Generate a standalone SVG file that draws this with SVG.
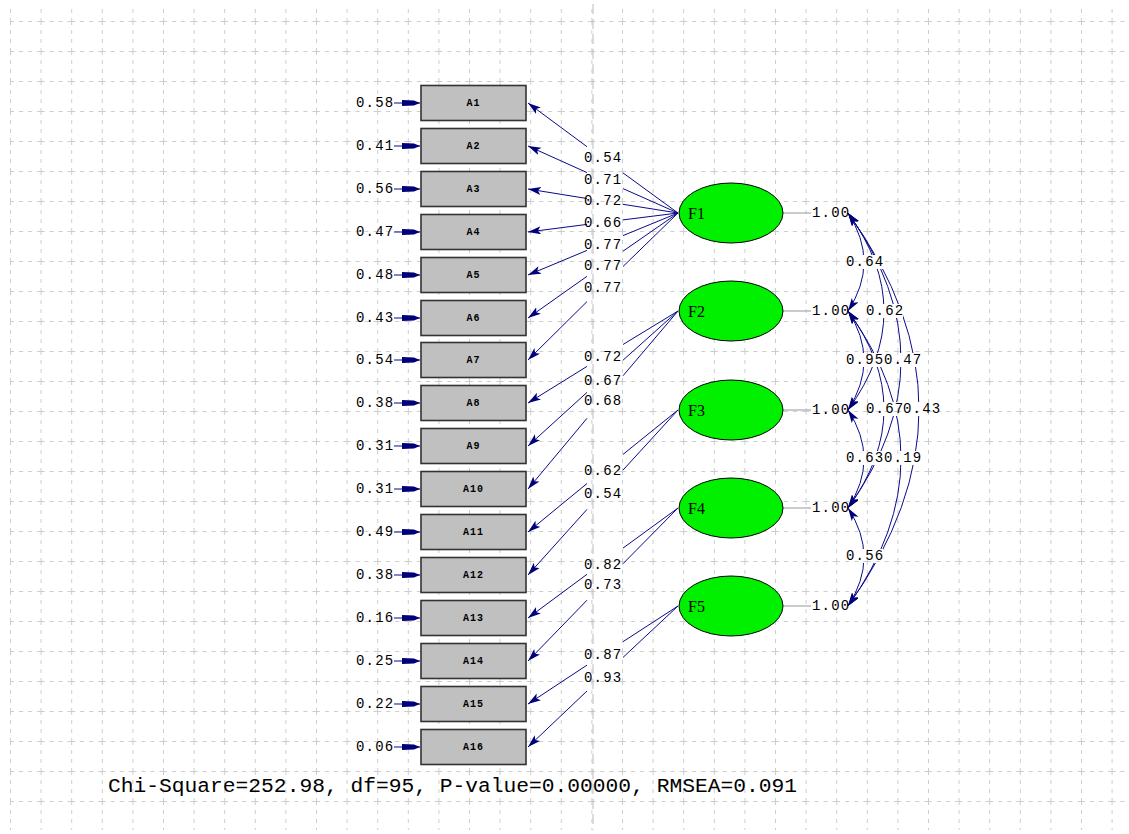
<svg xmlns="http://www.w3.org/2000/svg" width="1129" height="834" viewBox="0 0 1129 834">
<style>
.lbl{font-family:"Liberation Mono",monospace;font-size:14px;letter-spacing:1.2px;fill:#000;dominant-baseline:central}
.box{fill:#c0c0c0;stroke:#333;stroke-width:1.6}
.bt{font-family:"Liberation Mono",monospace;font-size:10px;font-weight:bold;letter-spacing:1px;fill:#000;text-anchor:middle;dominant-baseline:central}
.ell{fill:#00f000;stroke:#000;stroke-width:1}
.ft{font-family:"Liberation Serif",serif;font-size:16px;fill:#000;dominant-baseline:central}
.p{stroke:#0a0a8a;stroke-width:1;fill:none}
.v{stroke:#a8a8a8;stroke-width:1.2}
</style>
<defs>
<pattern id="grid" patternUnits="userSpaceOnUse" x="10" y="21" width="30.6" height="30">
<line x1="0" y1="0.5" x2="30.6" y2="0.5" stroke="#cdcdcd" stroke-width="1" stroke-dasharray="4 5"/>
<line x1="0.5" y1="0" x2="0.5" y2="30" stroke="#cdcdcd" stroke-width="1" stroke-dasharray="4 5"/>
</pattern>
<marker id="ah" markerUnits="userSpaceOnUse" markerWidth="14" markerHeight="10" refX="13" refY="4" orient="auto-start-reverse">
<path d="M0,0 L13,4 L0,8 L3,4 z" fill="#00007a"/>
</marker>
<marker id="eh" markerUnits="userSpaceOnUse" markerWidth="20" markerHeight="10" refX="18" refY="4" orient="auto">
<path d="M0,1 L12,1.5 L18,4 L12,6.5 L0,7 z" fill="#00007a"/>
</marker>
<mask id="covmask" maskUnits="userSpaceOnUse" x="0" y="0" width="1129" height="834">
<rect x="0" y="0" width="1129" height="834" fill="#fff"/>
<rect x="845" y="255" width="38" height="14" fill="#000"/>
<rect x="865" y="304" width="38" height="14" fill="#000"/>
<rect x="845" y="353" width="38" height="14" fill="#000"/>
<rect x="882" y="353" width="38" height="14" fill="#000"/>
<rect x="865" y="402" width="38" height="14" fill="#000"/>
<rect x="902" y="402" width="38" height="14" fill="#000"/>
<rect x="845" y="451" width="38" height="14" fill="#000"/>
<rect x="882" y="451" width="38" height="14" fill="#000"/>
<rect x="845" y="549" width="38" height="14" fill="#000"/>
</mask>
</defs>
<rect x="0" y="0" width="1129" height="834" fill="#fff"/>
<rect x="10" y="6" width="1115" height="824" fill="url(#grid)"/>
<line x1="593" y1="4" x2="593" y2="830" stroke="#bcbcbc" stroke-width="1" stroke-dasharray="10 5"/>

<g id="connectors">
<g id="errors" class="p">
<line x1="394" y1="103" x2="420" y2="103" marker-end="url(#eh)"/>
<line x1="394" y1="146" x2="420" y2="146" marker-end="url(#eh)"/>
<line x1="394" y1="189" x2="420" y2="189" marker-end="url(#eh)"/>
<line x1="394" y1="232" x2="420" y2="232" marker-end="url(#eh)"/>
<line x1="394" y1="275" x2="420" y2="275" marker-end="url(#eh)"/>
<line x1="394" y1="318" x2="420" y2="318" marker-end="url(#eh)"/>
<line x1="394" y1="360" x2="420" y2="360" marker-end="url(#eh)"/>
<line x1="394" y1="403" x2="420" y2="403" marker-end="url(#eh)"/>
<line x1="394" y1="446" x2="420" y2="446" marker-end="url(#eh)"/>
<line x1="394" y1="489" x2="420" y2="489" marker-end="url(#eh)"/>
<line x1="394" y1="532" x2="420" y2="532" marker-end="url(#eh)"/>
<line x1="394" y1="575" x2="420" y2="575" marker-end="url(#eh)"/>
<line x1="394" y1="618" x2="420" y2="618" marker-end="url(#eh)"/>
<line x1="394" y1="661" x2="420" y2="661" marker-end="url(#eh)"/>
<line x1="394" y1="704" x2="420" y2="704" marker-end="url(#eh)"/>
<line x1="394" y1="747" x2="420" y2="747" marker-end="url(#eh)"/>
</g>
<g id="loadings" class="p">
<line x1="678" y1="213" x2="623" y2="172.9"/><line x1="587" y1="146.7" x2="528" y2="103" marker-end="url(#ah)"/>
<line x1="678" y1="213" x2="623" y2="188.6"/><line x1="587" y1="172.6" x2="528" y2="146" marker-end="url(#ah)"/>
<line x1="678" y1="213" x2="623" y2="204.3"/><line x1="587" y1="198.5" x2="528" y2="189" marker-end="url(#ah)"/>
<line x1="678" y1="213" x2="623" y2="219.9"/><line x1="587" y1="224.4" x2="528" y2="232" marker-end="url(#ah)"/>
<line x1="678" y1="213" x2="623" y2="235.6"/><line x1="587" y1="250.4" x2="528" y2="275" marker-end="url(#ah)"/>
<line x1="678" y1="213" x2="623" y2="251.2"/><line x1="587" y1="276.3" x2="528" y2="318" marker-end="url(#ah)"/>
<line x1="678" y1="213" x2="623" y2="266.5"/><line x1="587" y1="301.6" x2="528" y2="360" marker-end="url(#ah)"/>
<line x1="678" y1="311" x2="623" y2="344.5"/><line x1="587" y1="366.4" x2="528" y2="403" marker-end="url(#ah)"/>
<line x1="678" y1="311" x2="623" y2="360.2"/><line x1="587" y1="392.4" x2="528" y2="446" marker-end="url(#ah)"/>
<line x1="678" y1="311" x2="623" y2="375.8"/><line x1="587" y1="418.3" x2="528" y2="489" marker-end="url(#ah)"/>
<line x1="678" y1="410" x2="623" y2="454.4"/><line x1="587" y1="483.5" x2="528" y2="532" marker-end="url(#ah)"/>
<line x1="678" y1="410" x2="623" y2="470.1"/><line x1="587" y1="509.4" x2="528" y2="575" marker-end="url(#ah)"/>
<line x1="678" y1="508" x2="623" y2="548.1"/><line x1="587" y1="574.3" x2="528" y2="618" marker-end="url(#ah)"/>
<line x1="678" y1="508" x2="623" y2="563.7"/><line x1="587" y1="600.2" x2="528" y2="661" marker-end="url(#ah)"/>
<line x1="678" y1="606" x2="623" y2="641.7"/><line x1="587" y1="665.1" x2="528" y2="704" marker-end="url(#ah)"/>
<line x1="678" y1="606" x2="623" y2="657.4"/><line x1="587" y1="691" x2="528" y2="747" marker-end="url(#ah)"/>
</g>
<g id="variances">
<line class="v" x1="783" y1="213" x2="811" y2="213"/>
<line class="v" x1="783" y1="311" x2="811" y2="311"/>
<line class="v" x1="783" y1="410" x2="811" y2="410"/>
<line class="v" x1="783" y1="508" x2="811" y2="508"/>
<line class="v" x1="783" y1="606" x2="811" y2="606"/>
</g>
<g id="covariances" class="p" mask="url(#covmask)">
<path d="M848,213 Q880,262 848,311" marker-start="url(#ah)" marker-end="url(#ah)"/>
<path d="M848,311 Q880,360 848,410" marker-start="url(#ah)" marker-end="url(#ah)"/>
<path d="M848,410 Q880,459 848,508" marker-start="url(#ah)" marker-end="url(#ah)"/>
<path d="M848,508 Q880,557 848,606" marker-start="url(#ah)" marker-end="url(#ah)"/>
<path d="M848,213 Q920,311 848,410" marker-start="url(#ah)" marker-end="url(#ah)"/>
<path d="M848,311 Q920,409 848,508" marker-start="url(#ah)" marker-end="url(#ah)"/>
<path d="M848,213 Q954,360 848,508" marker-start="url(#ah)" marker-end="url(#ah)"/>
<path d="M848,311 Q954,458 848,606" marker-start="url(#ah)" marker-end="url(#ah)"/>
<path d="M848,213 Q990,409 848,606" marker-start="url(#ah)" marker-end="url(#ah)"/>
</g>
</g>

<g id="error-labels">
<text class="lbl" x="356" y="103">0.58</text>
<text class="lbl" x="356" y="146">0.41</text>
<text class="lbl" x="356" y="189">0.56</text>
<text class="lbl" x="356" y="232">0.47</text>
<text class="lbl" x="356" y="275">0.48</text>
<text class="lbl" x="356" y="318">0.43</text>
<text class="lbl" x="356" y="360">0.54</text>
<text class="lbl" x="356" y="403">0.38</text>
<text class="lbl" x="356" y="446">0.31</text>
<text class="lbl" x="356" y="489">0.31</text>
<text class="lbl" x="356" y="532">0.49</text>
<text class="lbl" x="356" y="575">0.38</text>
<text class="lbl" x="356" y="618">0.16</text>
<text class="lbl" x="356" y="661">0.25</text>
<text class="lbl" x="356" y="704">0.22</text>
<text class="lbl" x="356" y="747">0.06</text>
</g>

<g id="A1"><rect class="box" x="421" y="85.5" width="105" height="35"/><text class="bt" x="473.5" y="103">A1</text></g>
<g id="A2"><rect class="box" x="421" y="128.5" width="105" height="35"/><text class="bt" x="473.5" y="146">A2</text></g>
<g id="A3"><rect class="box" x="421" y="171.5" width="105" height="35"/><text class="bt" x="473.5" y="189">A3</text></g>
<g id="A4"><rect class="box" x="421" y="214.5" width="105" height="35"/><text class="bt" x="473.5" y="232">A4</text></g>
<g id="A5"><rect class="box" x="421" y="257.5" width="105" height="35"/><text class="bt" x="473.5" y="275">A5</text></g>
<g id="A6"><rect class="box" x="421" y="300.5" width="105" height="35"/><text class="bt" x="473.5" y="318">A6</text></g>
<g id="A7"><rect class="box" x="421" y="342.5" width="105" height="35"/><text class="bt" x="473.5" y="360">A7</text></g>
<g id="A8"><rect class="box" x="421" y="385.5" width="105" height="35"/><text class="bt" x="473.5" y="403">A8</text></g>
<g id="A9"><rect class="box" x="421" y="428.5" width="105" height="35"/><text class="bt" x="473.5" y="446">A9</text></g>
<g id="A10"><rect class="box" x="421" y="471.5" width="105" height="35"/><text class="bt" x="473.5" y="489">A10</text></g>
<g id="A11"><rect class="box" x="421" y="514.5" width="105" height="35"/><text class="bt" x="473.5" y="532">A11</text></g>
<g id="A12"><rect class="box" x="421" y="557.5" width="105" height="35"/><text class="bt" x="473.5" y="575">A12</text></g>
<g id="A13"><rect class="box" x="421" y="600.5" width="105" height="35"/><text class="bt" x="473.5" y="618">A13</text></g>
<g id="A14"><rect class="box" x="421" y="643.5" width="105" height="35"/><text class="bt" x="473.5" y="661">A14</text></g>
<g id="A15"><rect class="box" x="421" y="686.5" width="105" height="35"/><text class="bt" x="473.5" y="704">A15</text></g>
<g id="A16"><rect class="box" x="421" y="729.5" width="105" height="35"/><text class="bt" x="473.5" y="747">A16</text></g>

<g id="F1"><ellipse class="ell" cx="731" cy="213" rx="52" ry="30"/><text class="ft" x="688" y="213">F1</text></g>
<g id="F2"><ellipse class="ell" cx="731" cy="311" rx="52" ry="30"/><text class="ft" x="688" y="311">F2</text></g>
<g id="F3"><ellipse class="ell" cx="731" cy="410" rx="52" ry="30"/><text class="ft" x="688" y="410">F3</text></g>
<g id="F4"><ellipse class="ell" cx="731" cy="508" rx="52" ry="30"/><text class="ft" x="688" y="508">F4</text></g>
<g id="F5"><ellipse class="ell" cx="731" cy="606" rx="52" ry="30"/><text class="ft" x="688" y="606">F5</text></g>

<g id="loading-labels">
<text class="lbl" x="584" y="158">0.54</text>
<text class="lbl" x="584" y="180">0.71</text>
<text class="lbl" x="584" y="201">0.72</text>
<text class="lbl" x="584" y="223">0.66</text>
<text class="lbl" x="584" y="245">0.77</text>
<text class="lbl" x="584" y="266">0.77</text>
<text class="lbl" x="584" y="288">0.77</text>
<text class="lbl" x="584" y="357">0.72</text>
<text class="lbl" x="584" y="381">0.67</text>
<text class="lbl" x="584" y="401">0.68</text>
<text class="lbl" x="584" y="471">0.62</text>
<text class="lbl" x="584" y="494">0.54</text>
<text class="lbl" x="584" y="565">0.82</text>
<text class="lbl" x="584" y="585">0.73</text>
<text class="lbl" x="584" y="655">0.87</text>
<text class="lbl" x="584" y="678">0.93</text>
</g>

<g id="variance-labels">
<text class="lbl" x="812" y="213">1.00</text>
<text class="lbl" x="812" y="311">1.00</text>
<text class="lbl" x="812" y="410">1.00</text>
<text class="lbl" x="812" y="508">1.00</text>
<text class="lbl" x="812" y="606">1.00</text>
</g>

<g id="covariance-labels">
<text class="lbl" x="846" y="262">0.64</text>
<text class="lbl" x="866" y="311">0.62</text>
<text class="lbl" x="846" y="360">0.95</text>
<text class="lbl" x="884" y="360">0.47</text>
<text class="lbl" x="866" y="409">0.67</text>
<text class="lbl" x="903" y="409">0.43</text>
<text class="lbl" x="846" y="458">0.63</text>
<text class="lbl" x="884" y="458">0.19</text>
<text class="lbl" x="846" y="556">0.56</text>
</g>

<text x="108" y="792" font-family="Liberation Mono, monospace" font-size="20" textLength="689" lengthAdjust="spacingAndGlyphs" fill="#000">Chi-Square=252.98, df=95, P-value=0.00000, RMSEA=0.091</text>
</svg>
